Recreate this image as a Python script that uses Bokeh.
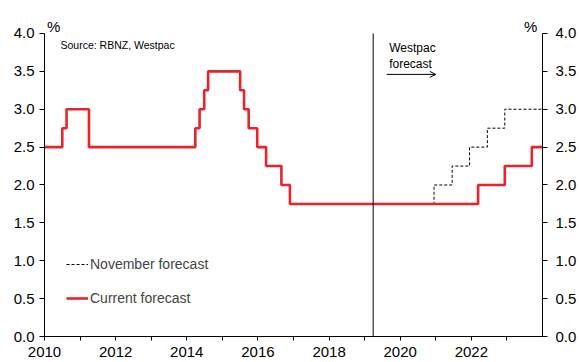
from bokeh.plotting import figure
from bokeh.models import (Range1d, LinearAxis, FixedTicker, NumeralTickFormatter,
                          Label, Arrow, OpenHead, Legend, LegendItem)
from bokeh.embed import file_html
from bokeh.resources import INLINE

# ---- data ----
current_dates = [2010.0, 2010.5, 2010.62, 2011.25, 2014.24, 2014.36, 2014.49, 2014.60,
                 2015.50, 2015.61, 2015.74, 2015.98, 2016.23, 2016.66, 2016.90,
                 2022.19, 2022.94, 2023.70, 2024.0]
current_rate = [2.5, 2.75, 3.0, 2.5, 2.75, 3.0, 3.25, 3.5,
                3.25, 3.0, 2.75, 2.5, 2.25, 2.0, 1.75,
                2.0, 2.25, 2.5, 2.5]
november_dates = [2019.24, 2020.95, 2021.46, 2021.95, 2022.45, 2022.94, 2024.0]
november_rate = [1.75, 2.0, 2.25, 2.5, 2.75, 3.0, 3.0]
forecast_start = 2019.24
x_major_ticks = [2010, 2012, 2014, 2016, 2018, 2020, 2022]
x_minor_ticks = [2011, 2013, 2015, 2017, 2019, 2021, 2023]
y_ticks = [0.0, 0.5, 1.0, 1.5, 2.0, 2.5, 3.0, 3.5, 4.0]
y_min, y_max = 0.0, 4.0

FONT = "Liberation Sans"
RED = "#e8232b"

# frame extends above 4.0 so the "%" labels can sit inside it; axes are bounded to 0..4
Y_TOP = 4.409

p = figure(width=579, height=362, output_backend="svg", toolbar_location=None,
           x_range=Range1d(2010, 2024), y_range=Range1d(y_min, Y_TOP),
           min_border_left=44, min_border_right=36, min_border_top=2, min_border_bottom=26)
p.outline_line_color = None
p.grid.visible = False
p.background_fill_color = "white"
p.border_fill_color = "white"

nov = p.step(november_dates, november_rate, mode="after", line_color="black",
             line_width=1, line_dash="3 2")
cur = p.step(current_dates, current_rate, mode="after", line_color=RED, line_width=2.6)

p.segment(x0=[forecast_start], y0=[y_min], x1=[forecast_start], y1=[y_max],
          line_color="black", line_width=1)

# axes
right = LinearAxis()
p.add_layout(right, "right")

for ax in (p.yaxis[0], right):
    ax.bounds = (y_min, y_max)
    ax.ticker = FixedTicker(ticks=y_ticks)
    ax.formatter = NumeralTickFormatter(format="0.0")
    ax.major_tick_in = 0
    ax.major_tick_out = 5
    ax.minor_tick_out = 0
    ax.minor_tick_in = 0
    ax.major_label_text_font = FONT
    ax.major_label_text_font_size = "15px"
    ax.major_label_text_color = "black"
    ax.axis_line_color = "black"
    ax.major_tick_line_color = "black"
p.yaxis[0].major_label_standoff = 5
right.major_label_standoff = 8

xa = p.xaxis[0]
xa.ticker = FixedTicker(ticks=x_major_ticks, minor_ticks=x_minor_ticks)
xa.major_tick_in = 0
xa.major_tick_out = 4
xa.minor_tick_in = 0
xa.minor_tick_out = 4
xa.minor_tick_line_color = "black"
xa.major_tick_line_color = "black"
xa.axis_line_color = "black"
xa.major_label_text_font = FONT
xa.major_label_text_font_size = "15px"
xa.major_label_text_color = "black"
xa.major_label_standoff = 6

# texts
p.add_layout(Label(x=2010.45, y=3.854, text="Source: RBNZ, Westpac", text_font=FONT,
                   text_font_size="10.5px", text_baseline="alphabetic", text_color="black"))
p.add_layout(Label(x=2019.69, y=3.81, text="Westpac", text_font=FONT,
                   text_font_size="12px", text_baseline="alphabetic", text_color="black"))
p.add_layout(Label(x=2019.69, y=3.603, text="forecast", text_font=FONT,
                   text_font_size="12px", text_baseline="alphabetic", text_color="black"))
p.add_layout(Arrow(x_start=2019.62, y_start=3.46, x_end=2021.0, y_end=3.46, line_width=1,
                   line_color="black", end=OpenHead(size=6, line_width=1, line_color="black")))
p.add_layout(Label(x=2010.26, y=4.097, text="%", text_font=FONT, text_font_size="15px",
                   text_align="center", text_baseline="alphabetic", text_color="black"))
p.add_layout(Label(x=2023.67, y=4.097, text="%", text_font=FONT, text_font_size="15px",
                   text_align="center", text_baseline="alphabetic", text_color="black"))

legend = Legend(items=[LegendItem(label="November forecast", renderers=[nov]),
                       LegendItem(label="Current forecast", renderers=[cur])],
                location=(22, 28), padding=0, margin=0, spacing=14,
                glyph_width=22, glyph_height=20, label_height=20, label_standoff=2,
                label_text_font=FONT, label_text_font_size="14px",
                border_line_alpha=0, background_fill_alpha=0)
p.add_layout(legend)

open("out.html", "w").write(file_html(p, INLINE))
